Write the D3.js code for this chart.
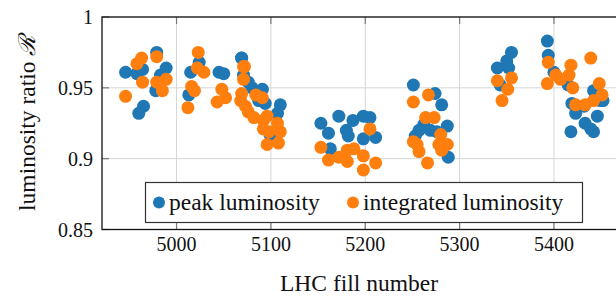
<html>
<head>
<style>
  body { margin:0; padding:0; background:#fff; }
  text { font-family: "Liberation Serif", "DejaVu Serif", serif; fill:#111; }
</style>
</head>
<body>
<svg width="616" height="298"></svg>
<script src="https://d3js.org/d3.v7.min.js"></script>
<script>
// peak luminosity
var peakFill  = [4946,4958,4964,4979,4989,4983,4978,4965,4960,
                 5015,5024,5013,5045,5050,5069,
                 5069,5071,5076,5080,5087,5091,5094,5110,5107,5099,
                 5153,5161,5172,5180,5182,5187,5163,5198,5205,5198,5211,
                 5251,5274,5281,5287,5262,5257,5253,5269,5276,5288,
                 5340,5350,5355,5352,5343,
                 5393,5394,5400,5415,5442,5419,5423,5432,5449,5418,5433,5439,5442,5446,5452];
var peakRatio = [0.961,0.960,0.963,0.975,0.964,0.959,0.948,0.937,0.932,
                 0.961,0.968,0.945,0.961,0.960,0.971,
                 0.971,0.959,0.954,0.950,0.941,0.949,0.939,0.938,0.932,0.917,
                 0.925,0.918,0.930,0.920,0.916,0.927,0.907,0.930,0.929,0.914,0.915,
                 0.952,0.946,0.938,0.923,0.924,0.920,0.916,0.920,0.919,0.901,
                 0.964,0.969,0.975,0.964,0.952,
                 0.983,0.973,0.961,0.952,0.948,0.939,0.932,0.937,0.941,0.919,0.925,0.921,0.919,0.930,0.941];
// integrated luminosity
var intFill   = [4946,4958,4963,4964,4979,4979,4985,4989,
                 5023,5022,5029,5016,5019,5012,5043,5048,5052,5071,
                 5072,5071,5069,5068,5073,5076,5082,5084,5091,5092,5096,5092,5098,5107,5110,5096,5108,
                 5153,5161,5172,5181,5181,5188,5198,5198,5211,5205,
                 5251,5267,5264,5273,5251,5257,5266,5280,5278,5287,5281,5255,
                 5340,5355,5351,5345,
                 5394,5393,5402,5407,5418,5416,5420,5439,5448,5451,5442,5423,5433];
var intRatio  = [0.944,0.967,0.971,0.954,0.972,0.954,0.948,0.956,
                 0.975,0.964,0.961,0.951,0.948,0.936,0.940,0.949,0.943,0.965,
                 0.965,0.956,0.946,0.941,0.937,0.933,0.929,0.945,0.943,0.927,0.930,0.921,0.919,0.925,0.919,0.910,0.911,
                 0.908,0.899,0.901,0.898,0.906,0.907,0.902,0.892,0.897,0.921,
                 0.940,0.945,0.929,0.929,0.912,0.905,0.897,0.917,0.910,0.910,0.906,0.910,
                 0.955,0.957,0.949,0.941,
                 0.968,0.953,0.959,0.956,0.966,0.959,0.950,0.971,0.953,0.945,0.941,0.938,0.938];
var xTicks = [5000,5100,5200,5300,5400];
var yTicks = [0.85,0.9,0.95,1];
var yTickLabels = ["0.85","0.9","0.95","1"];

var blue = "#1f77b4", orange = "#ff7f0e";
var pLeft = 102, pRight = 620, pTop = 17, pBottom = 229.5;

var x = d3.scaleLinear().domain([4921, 5470]).range([pLeft, pRight]);
var y = d3.scaleLinear().domain([0.85, 1]).range([pBottom, pTop]);

var svg = d3.select("svg");

// grid
svg.append("g").selectAll("line").data(xTicks).enter().append("line")
  .attr("x1", d => x(d)).attr("x2", d => x(d)).attr("y1", pTop).attr("y2", pBottom)
  .attr("stroke", "#d6d6d6").attr("stroke-width", 1);
svg.append("g").selectAll("line").data(yTicks).enter().append("line")
  .attr("x1", pLeft).attr("x2", pRight).attr("y1", d => y(d)).attr("y2", d => y(d))
  .attr("stroke", "#d6d6d6").attr("stroke-width", 1);

// inner tick marks
var tl = 7;
xTicks.forEach(function(t) {
  svg.append("line").attr("x1", x(t)).attr("x2", x(t)).attr("y1", pTop).attr("y2", pTop + tl)
    .attr("stroke", "#7a7a7a").attr("stroke-width", 1.2);
  svg.append("line").attr("x1", x(t)).attr("x2", x(t)).attr("y1", pBottom).attr("y2", pBottom - tl)
    .attr("stroke", "#7a7a7a").attr("stroke-width", 1.2);
});
yTicks.forEach(function(t) {
  svg.append("line").attr("x1", pLeft).attr("x2", pLeft + tl).attr("y1", y(t)).attr("y2", y(t))
    .attr("stroke", "#7a7a7a").attr("stroke-width", 1.2);
});

// points
var peak = peakFill.map((f, i) => [f, peakRatio[i]]);
var integ = intFill.map((f, i) => [f, intRatio[i]]);

svg.append("g").selectAll("circle").data(peak).enter().append("circle")
  .attr("cx", d => x(d[0])).attr("cy", d => y(d[1])).attr("r", 6.5).attr("fill", blue);
svg.append("g").selectAll("circle").data(integ).enter().append("circle")
  .attr("cx", d => x(d[0])).attr("cy", d => y(d[1])).attr("r", 6.5).attr("fill", orange);

// frame
svg.append("rect").attr("x", pLeft).attr("y", pTop).attr("width", pRight - pLeft).attr("height", pBottom - pTop)
  .attr("fill", "none").attr("stroke", "#111").attr("stroke-width", 1.3);

// tick labels
svg.append("g").selectAll("text").data(xTicks).enter().append("text")
  .attr("x", d => x(d)).attr("y", pBottom + 21)
  .attr("text-anchor", "middle").style("font-size", "20px").text(d => d);
svg.append("g").selectAll("text").data(yTicks).enter().append("text")
  .attr("x", pLeft - 9).attr("y", d => y(d) + 7)
  .attr("text-anchor", "end").style("font-size", "20px").text((d, i) => yTickLabels[i]);

// axis titles
svg.append("text").attr("x", (pLeft + 616) / 2).attr("y", 291)
  .attr("text-anchor", "middle").style("font-size", "23.5px").text("LHC fill number");
svg.append("text").attr("transform", "translate(35," + ((pTop + pBottom) / 2) + ") rotate(-90)")
  .attr("text-anchor", "middle").style("font-size", "23.5px")
  .text("luminosity ratio ")
  .append("tspan").style("font-style", "italic").text("ℛ");

// legend
var lg = svg.append("g");
lg.append("rect").attr("x", 145.5).attr("y", 182.5).attr("width", 437).attr("height", 40)
  .attr("fill", "#fff").attr("stroke", "#333").attr("stroke-width", 1.2);
var items = [["peak luminosity", blue, 159], ["integrated luminosity", orange, 353]];
items.forEach(function(it) {
  lg.append("circle").attr("cx", it[2]).attr("cy", 202.5).attr("r", 6).attr("fill", it[1]);
  lg.append("text").attr("x", it[2] + 10).attr("y", 209.5).style("font-size", "23.5px").text(it[0]);
});
</script>
</body>
</html>
